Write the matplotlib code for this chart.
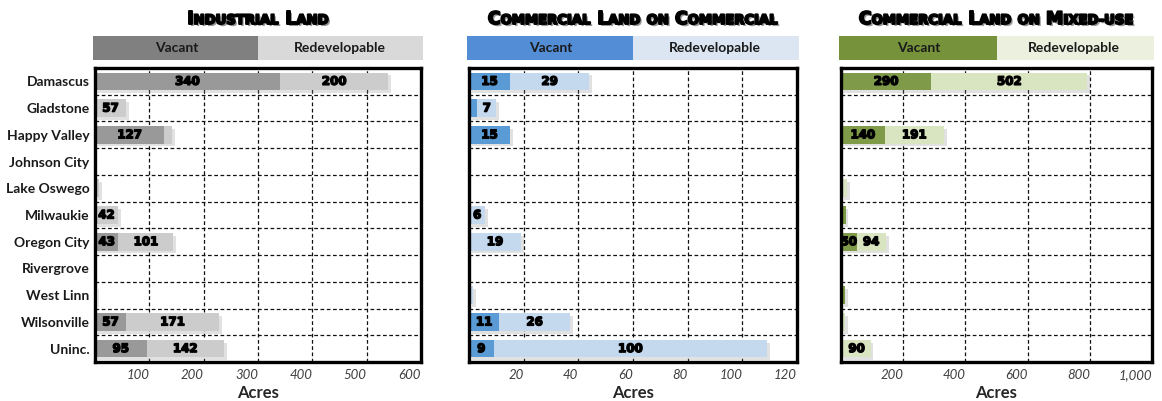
import matplotlib
matplotlib.use("Agg")
import matplotlib.pyplot as plt
import matplotlib.patheffects as pe
from matplotlib.patches import Rectangle
from matplotlib.ticker import FuncFormatter

categories = ["Damascus", "Gladstone", "Happy Valley", "Johnson City", "Lake Oswego",
              "Milwaukie", "Oregon City", "Rivergrove", "West Linn", "Wilsonville", "Uninc."]

# Industrial land (acres)
ind_vacant = [340, 0, 127, 0, 0, 0, 43, 0, 0, 57, 95]
ind_redev = [200, 57, 15, 0, 8, 42, 101, 0, 3, 171, 142]
# Commercial land on commercial zoning
com_vacant = [15, 3, 15, 0, 0, 0, 0, 0, 0, 11, 9]
com_redev = [29, 7, 0, 0, 0, 6, 19, 0, 1.5, 26, 100]
# Commercial land on mixed-use zoning
mix_vacant = [290, 0, 140, 0, 5, 15, 50, 0, 12, 5, 5]
mix_redev = [502, 0, 191, 0, 15, 0, 94, 0, 0, 8, 90]

titles = ["Industrial Land", "Commercial Land on Commercial", "Commercial Land on Mixed-use"]
xmax = [600, 120, 1000]
xticks = [[100, 200, 300, 400, 500, 600], [20, 40, 60, 80, 100, 120], [200, 400, 600, 800, 1000]]
label_min = [20, 5, 30]

bar_colors = [("#999999", "#cccccc"), ("#5b9bd5", "#c5d9ee"), ("#7f9a48", "#d9e4c0")]
legend_colors = [("#808080", "#d9d9d9"), ("#538dd5", "#dce6f2"), ("#76933c", "#ebf1de")]

W, H = 1162, 401
fig = plt.figure(figsize=(W / 100, H / 100), dpi=100)

ax_px = [(95, 421), (469, 797), (841, 1152)]
top_px, bot_px = 68, 362

label_font = "Lato"
heavy_fx = [pe.Stroke(linewidth=1.0, foreground="black"), pe.Normal()]
shadow_fx = [pe.SimplePatchShadow(offset=(2, -2), shadow_rgbFace="#888888", alpha=0.25), pe.Normal()]

data = [(ind_vacant, ind_redev), (com_vacant, com_redev), (mix_vacant, mix_redev)]

renderer = fig.canvas.get_renderer()


def smallcaps(xc, yc, s, big=12.5, small=9.5):
    runs = []
    for ch in s:
        sz = small if (ch.islower() or ch == "-") else big
        c = ch.upper()
        if runs and runs[-1][1] == sz:
            runs[-1][0] += c
        else:
            runs.append([c, sz])
    fx = [pe.SimplePatchShadow(offset=(1.5, -1.5), shadow_rgbFace="#555555", alpha=0.6),
          pe.Stroke(linewidth=1.4, foreground="black"), pe.Normal()]
    texts = []
    widths = []
    for txt, sz in runs:
        t = fig.text(0, yc / H, txt, fontsize=sz, fontweight="bold", family="DejaVu Sans",
                     va="baseline", ha="left", color="black", path_effects=fx)
        texts.append(t)
        widths.append(t.get_window_extent(renderer).width)
    total = sum(widths)
    x = xc - total / 2
    for t, w in zip(texts, widths):
        t.set_x(x / W)
        x += w


for i in range(3):
    l, r = ax_px[i]
    ax = fig.add_axes([l / W, 1 - bot_px / H, (r - l) / W, (bot_px - top_px) / H])
    vac, red = data[i]
    cv, cr = bar_colors[i]
    y = list(range(len(categories)))
    for k in range(len(categories) - 1):
        ax.axhline(k + 0.5, color="#111111", lw=0.9, ls=(0, (3, 2)), zorder=1)
    for xt in xticks[i][:-1]:
        ax.axvline(xt, color="#111111", lw=0.9, ls=(0, (3, 2)), zorder=1)
    b1 = ax.barh(y, vac, height=0.66, color=cv, zorder=2, linewidth=0)
    b2 = ax.barh(y, red, left=vac, height=0.66, color=cr, zorder=3, linewidth=0)
    for b in list(b1) + list(b2):
        b.set_path_effects(shadow_fx)
    for k in range(len(categories)):
        if vac[k] >= label_min[i]:
            ax.text(vac[k] / 2, k, f"{vac[k]:g}", ha="center", va="center", fontsize=8.5,
                    fontweight="bold", family="DejaVu Sans", zorder=5, path_effects=heavy_fx)
        if red[k] >= label_min[i]:
            ax.text(vac[k] + red[k] / 2, k, f"{red[k]:g}", ha="center", va="center", fontsize=8.5,
                    fontweight="bold", family="DejaVu Sans", zorder=5, path_effects=heavy_fx)
    ax.set_xlim(0, xmax[i])
    ax.set_ylim(len(categories) - 0.5, -0.5)
    ax.set_xticks(xticks[i])
    ax.xaxis.set_major_formatter(FuncFormatter(lambda v, p: f"{v:,.0f}"))
    ax.tick_params(axis="x", length=0, pad=5)
    for lab in ax.get_xticklabels():
        lab.set_ha("right")
        lab.set_fontstyle("italic")
        lab.set_fontsize(9.5)
        lab.set_color("#404040")
        lab.set_family(label_font)
    if i == 0:
        ax.set_yticks(y)
        ax.set_yticklabels(categories, fontsize=10, fontweight="bold", family=label_font,
                           color="#1a1a1a")
        ax.tick_params(axis="y", length=0, pad=4)
    else:
        ax.set_yticks([])
    ax.set_xlabel("Acres", fontsize=12, fontweight="bold", family=label_font,
                  color="#262626", labelpad=3)
    for sp in ax.spines.values():
        sp.set_linewidth(2.4)
        sp.set_color("black")
        sp.set_zorder(6)

    lv, lr = legend_colors[i]
    mid = (l + r) / 2
    y0 = 1 - 60 / H
    hh = 24 / H
    fig.patches.append(Rectangle(((l - 2) / W, y0), (mid - l + 2) / W, hh,
                                 transform=fig.transFigure, color=lv, lw=0))
    fig.patches.append(Rectangle((mid / W, y0), (r + 2 - mid) / W, hh,
                                 transform=fig.transFigure, color=lr, lw=0))
    fig.text(((l + mid) / 2) / W, y0 + hh / 2, "Vacant", ha="center", va="center",
             fontsize=10, fontweight="bold", family=label_font, color="#1a1a1a")
    fig.text(((mid + r) / 2) / W, y0 + hh / 2, "Redevelopable", ha="center", va="center",
             fontsize=10, fontweight="bold", family=label_font, color="#1a1a1a")

    smallcaps((l + r) / 2, H - 24, titles[i])

fig.savefig("out.png", dpi=100)
